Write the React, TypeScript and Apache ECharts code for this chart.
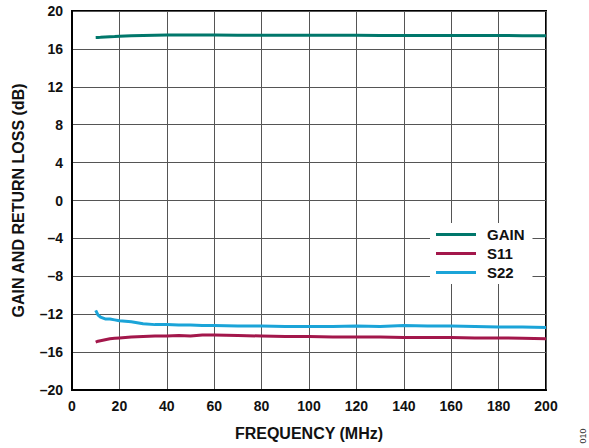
import React, { useEffect, useRef } from "react";
import * as echarts from "echarts";

const freq = [10, 11, 12, 14, 16, 18, 20, 25, 30, 35, 40, 45, 50, 55, 60, 70, 80, 90, 100, 110, 120, 130, 140, 150, 160, 170, 180, 190, 200];
const gain = [17.2, 17.21, 17.22, 17.25, 17.28, 17.3, 17.33, 17.38, 17.42, 17.44, 17.46, 17.47, 17.47, 17.46, 17.46, 17.45, 17.45, 17.44, 17.44, 17.43, 17.43, 17.42, 17.42, 17.42, 17.41, 17.41, 17.41, 17.4, 17.4];
const s22 = [-11.6, -12.1, -12.3, -12.5, -12.5, -12.6, -12.7, -12.8, -13.0, -13.1, -13.1, -13.15, -13.15, -13.2, -13.2, -13.25, -13.25, -13.3, -13.3, -13.3, -13.25, -13.3, -13.2, -13.25, -13.25, -13.3, -13.35, -13.35, -13.4];
const s11 = [-14.95, -14.85, -14.8, -14.7, -14.6, -14.55, -14.5, -14.4, -14.35, -14.3, -14.3, -14.25, -14.3, -14.2, -14.2, -14.25, -14.3, -14.35, -14.35, -14.4, -14.4, -14.4, -14.45, -14.45, -14.45, -14.5, -14.5, -14.55, -14.6];

const seriesNames = ["GAIN", "S11", "S22"];
const seriesColors = ["#00776b", "#a3174b", "#1ba4d8"];

const xTicks = { min: 0, max: 200, interval: 20 };
const yTicks = { min: -20, max: 20, interval: 4 };

const font = "'Liberation Sans', Arial, sans-serif";

export default function App() {
  const ref = useRef<HTMLDivElement>(null);
  useEffect(() => {
    if (!ref.current) return;
    const chart = echarts.init(ref.current, null, { renderer: "svg" });
    const data = [gain, s11, s22];
    chart.setOption({
      animation: false,
      backgroundColor: "#ffffff",
      grid: { left: 72, right: 43, top: 11, bottom: 58, show: true, borderColor: "#000", borderWidth: 2 },
      legend: {
        orient: "vertical",
        left: 430,
        top: 223,
        itemWidth: 40,
        itemHeight: 3,
        itemGap: 4,
        backgroundColor: "#ffffff",
        padding: [4, 8, 4, 6],
        data: seriesNames.map((n) => ({ name: n, icon: "rect" })),
        textStyle: { fontFamily: font, fontWeight: "bold", fontSize: 15, color: "#111", padding: [0, 0, 0, 6] },
      },
      xAxis: {
        type: "value",
        min: xTicks.min,
        max: xTicks.max,
        interval: xTicks.interval,
        name: "FREQUENCY (MHz)",
        nameLocation: "middle",
        nameGap: 35,
        nameTextStyle: { fontFamily: font, fontWeight: "bold", fontSize: 16, color: "#111" },
        axisLine: { show: true, onZero: false, lineStyle: { color: "#000", width: 2 } },
        axisTick: { show: false },
        axisLabel: { fontFamily: font, fontWeight: "bold", fontSize: 14, color: "#111", margin: 9 },
        splitLine: { show: true, lineStyle: { color: "#555", width: 1 } },
      },
      yAxis: {
        type: "value",
        min: yTicks.min,
        max: yTicks.max,
        interval: yTicks.interval,
        name: "GAIN AND RETURN LOSS (dB)",
        nameLocation: "middle",
        nameGap: 46,
        nameTextStyle: { fontFamily: font, fontWeight: "bold", fontSize: 16, color: "#111" },
        axisLine: { show: true, onZero: false, lineStyle: { color: "#000", width: 2 } },
        axisTick: { show: false },
        axisLabel: {
          fontFamily: font, fontWeight: "bold", fontSize: 14, color: "#111", margin: 9,
          formatter: (v: number) => String(v).replace("-", "\u2013"),
        },
        splitLine: { show: true, lineStyle: { color: "#555", width: 1 } },
      },
      graphic: [
        {
          type: "text",
          x: 583,
          y: 436,
          rotation: Math.PI / 2,
          style: { text: "010", fontFamily: font, fontSize: 9, fill: "#333", textAlign: "center", textVerticalAlign: "middle" },
        },
      ],
      series: seriesNames.map((n, i) => ({
        name: n,
        type: "line",
        showSymbol: false,
        symbol: "none",
        data: freq.map((f, j) => [f, data[i][j]]),
        lineStyle: { color: seriesColors[i], width: 3 },
        itemStyle: { color: seriesColors[i] },
        z: 3,
      })),
    });
    return () => chart.dispose();
  }, []);
  return <div ref={ref} style={{ width: 589, height: 448, position: "absolute", left: 0, top: 0 }} />;
}
